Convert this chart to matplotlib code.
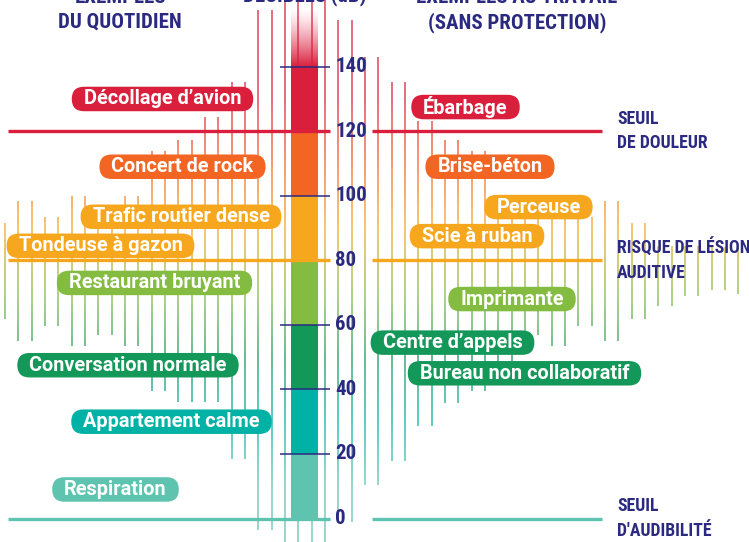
import numpy as np
import matplotlib
matplotlib.use("Agg")
import matplotlib.pyplot as plt
from matplotlib import font_manager as fm
from matplotlib.collections import LineCollection
from matplotlib.patches import FancyBboxPatch
from matplotlib.colors import LinearSegmentedColormap, to_rgba
from matplotlib.transforms import IdentityTransform

# ---------------- data ----------------
band_edges = [0, 20, 40, 60, 80, 100, 120, 140]
band_colors = ["#5EC4B0", "#00B2A5", "#14985A", "#84BC41", "#F6A71E", "#F26522", "#DA1F3D"]
tick_values = [0, 20, 40, 60, 80, 100, 120, 140]

threshold_db = [0, 80, 120]
threshold_colors = ["#5EC4B0", "#F6A71E", "#DA1F3D"]
threshold_names = ["SEUIL\nD'AUDIBILITÉ", "RISQUE DE LÉSION\nAUDITIVE", "SEUIL\nDE DOULEUR"]

daily_labels = ["Décollage d’avion", "Concert de rock", "Trafic routier dense",
                "Tondeuse à gazon", "Restaurant bruyant", "Conversation normale",
                "Appartement calme", "Respiration"]
daily_db = [130, 109, 93.5, 84.5, 73, 47.5, 30, 9]
daily_x = [162.5, 182.5, 181, 100.5, 154.5, 128, 171.5, 115.5]

work_labels = ["Ébarbage", "Brise-béton", "Perceuse", "Scie à ruban", "Imprimante",
               "Centre d’appels", "Bureau non collaboratif"]
work_db = [127.5, 109, 96.5, 87.5, 68, 54.5, 45]
work_x = [465.5, 490, 538.5, 477, 512, 452.5, 524.5]

# vertical decorative lines: lower / upper level (dB), one per line
line_low = [61.8, 55, 55, 59.8, 59.8, 53.4, 53.4, 57, 57, 53.4,
            53.4, 39.4, 39.4, 36, 36, 36, 36, 18.3, 18.3, -3.7,
            -3.7, -8, -8, -8, -8, -1, -1, 10.5, 10.5, 17.8,
            17.8, 28.8, 28.8, 35.9, 35.9, 39.4, 39.4, 46, 46, 57,
            57, 53.3, 53.3, 59.8, 59.8, 55, 55, 61.7, 61.7, 66,
            66, 68.9, 68.9, 70.8, 70.8, 69.7]
line_high = [91.7, 98.5, 98.5, 93.5, 93.5, 99.9, 99.9, 93, 93, 99.9,
             99.9, 114, 114, 117.3, 117.3, 124.5, 124.5, 135.2, 135.2, 157.5,
             157.5, 165, 165, 165, 165, 154.6, 154.6, 143, 143, 135.3,
             135.3, 123.2, 123.2, 117.3, 117.3, 114, 114, 99, 99, 96,
             96, 99, 99, 93.3, 93.3, 98.5, 98.5, 91.7, 91.7, 84.3,
             84.3, 84.3, 84.3, 84, 84, 83.7]

# ---------------- fonts ----------------
names = {f.name for f in fm.fontManager.ttflist}
LABEL_FONT = ["Roboto", "DejaVu Sans"]
if "Roboto Condensed" in names:
    COND_FONT = ["Roboto Condensed", "DejaVu Sans"]
elif "Liberation Sans Narrow" in names:
    COND_FONT = ["Liberation Sans Narrow", "DejaVu Sans"]
else:
    COND_FONT = ["Roboto", "DejaVu Sans"]

NAVY = "#2B2A80"

# ---------------- figure ----------------
fig = plt.figure(figsize=(7.49, 5.42), dpi=100)
ax = fig.add_axes([0, 0, 1, 1])
ax.set_xlim(0, 749)
ax.set_ylim(-7.28, 160.67)
ax.set_autoscale_on(False)
ax.axis("off")

# colormap over dB
stops = [(10, "#5EC4B0"), (30, "#00B2A5"), (50, "#14985A"), (70, "#84BC41"),
         (90, "#F6A71E"), (110, "#F26522"), (130, "#DA1F3D")]
vmin, vmax = -10, 170
cmap = LinearSegmentedColormap.from_list(
    "db", [(0, stops[0][1])] + [((d - vmin) / (vmax - vmin), c) for d, c in stops] + [(1, stops[-1][1])])

# vertical gradient lines
line_x = 5 + 13.333 * np.arange(len(line_low))
segs, cols = [], []
for x, lo, hi in zip(line_x, line_low, line_high):
    ys = np.linspace(lo, hi, max(int((hi - lo) * 2), 2) + 1)
    for a, b in zip(ys[:-1], ys[1:]):
        segs.append([(x, a), (x, b)])
        cols.append(cmap(((a + b) / 2 - vmin) / (vmax - vmin)))
lc = LineCollection(segs, colors=cols, linewidths=1.15, alpha=0.8, zorder=1,
                    capstyle="butt")
ax.add_collection(lc)

# central column
col_x, col_w = 304.5, 27
ax.bar([col_x] * (len(band_edges) - 1), np.diff(band_edges), bottom=band_edges[:-1],
       width=col_w, color=band_colors, zorder=3, linewidth=0)
# fading top
fade = np.zeros((100, 1, 4))
fade[:, 0, :3] = to_rgba(band_colors[-1])[:3]
fade[:, 0, 3] = np.linspace(1, 0, 100) ** 1.3
ax.imshow(fade, extent=[col_x - col_w / 2, col_x + col_w / 2, band_edges[-1], 158],
          origin="lower", aspect="auto", zorder=3, interpolation="bilinear")

# ticks
for v in tick_values:
    if v in threshold_db:
        continue
    ax.hlines(v, 280, 330, color=NAVY, lw=1.1, zorder=4)
for v in tick_values:
    ax.text(335, v, str(v), ha="left", va="center", color=NAVY, fontsize=15,
            fontweight="bold", family=COND_FONT, zorder=6)

# threshold lines
for v, c, name in zip(threshold_db, threshold_colors, threshold_names):
    ax.hlines(v, 8, 330, color=c, lw=2.4, zorder=4)
    ax.hlines(v, 372, 602, color=c, lw=2.4, zorder=4)
    ax.text(617, v, name, ha="left", va="center", color=NAVY, fontsize=12.8,
            fontweight="bold", family=COND_FONT, linespacing=1.45, zorder=6)

# headers (partly cut by the top edge, as in the original)
hdr = dict(color=NAVY, fontsize=15, fontweight="heavy", family=COND_FONT,
           ha="center", va="baseline", zorder=6)
ax.text(120, 159.6, "EXEMPLES", **hdr)
ax.text(120, 152.0, "DU QUOTIDIEN", **hdr)
ax.text(305, 160.1, "DÉCIBELS (dB)", **hdr)
ax.text(517, 159.6, "EXEMPLES AU TRAVAIL", **hdr)
ax.text(517, 152.0, "(SANS PROTECTION)", **hdr)


# labels (pills)
def band_color(db):
    i = int(np.clip(np.digitize(db, band_edges) - 1, 0, len(band_colors) - 1))
    return band_colors[i]


texts = []
for labs, dbs, xs in ((daily_labels, daily_db, daily_x), (work_labels, work_db, work_x)):
    for lab, db, x in zip(labs, dbs, xs):
        t = ax.text(x, db, lab, ha="center", va="center", color="white", fontsize=14.3,
                    fontweight="bold", family=LABEL_FONT, zorder=6)
        texts.append((t, x, db, band_color(db)))

fig.canvas.draw()
r = fig.canvas.get_renderer()
for t, x, db, c in texts:
    bb = t.get_window_extent(r)
    cx = (bb.x0 + bb.x1) / 2
    cy = ax.transData.transform((x, db))[1]
    w = bb.width + 24
    h = 24.5
    p = FancyBboxPatch((cx - w / 2, cy - h / 2), w, h,
                       boxstyle=f"round,pad=0,rounding_size={h / 2}",
                       transform=IdentityTransform(), fc=c, ec="none", zorder=5)
    ax.add_artist(p)

fig.savefig("out.png", dpi=100)
